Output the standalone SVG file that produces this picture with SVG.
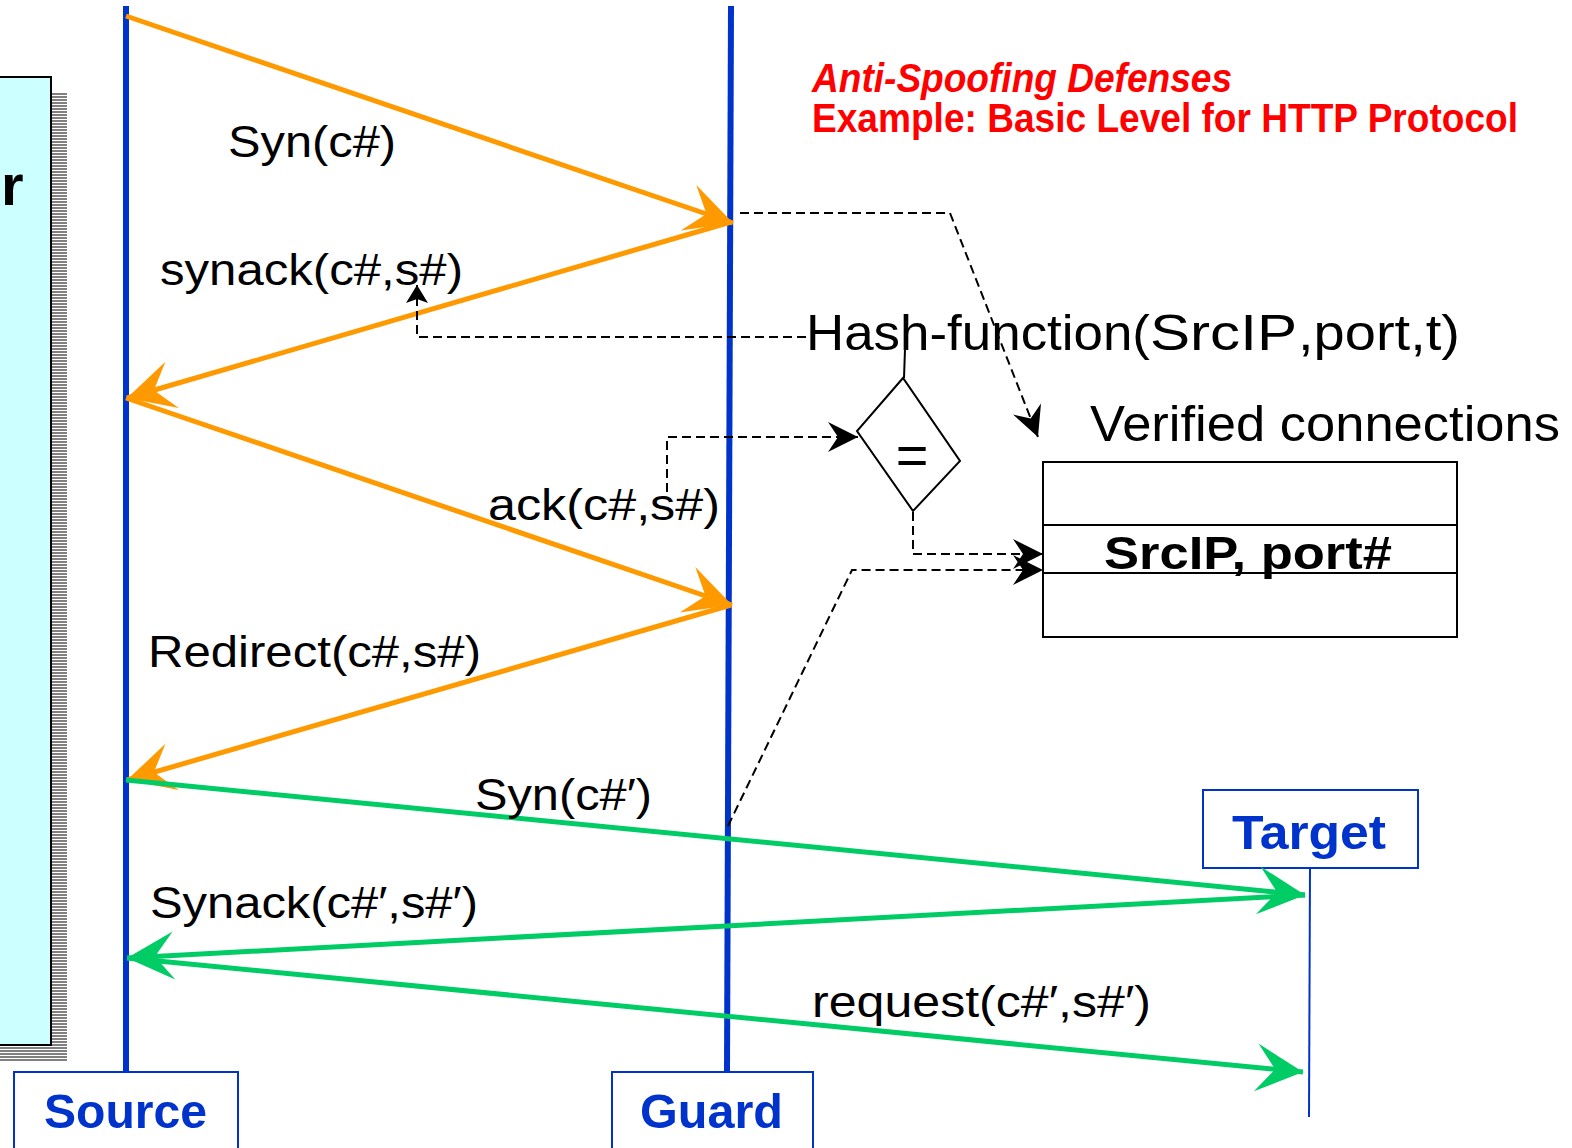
<svg xmlns="http://www.w3.org/2000/svg" width="1572" height="1148" viewBox="0 0 1572 1148">
  <style>
    .life { stroke: #0033cc; stroke-width: 6; fill: none; }
    .orange { stroke: #ff9900; stroke-width: 5; fill: none; }
    .green { stroke: #00cc66; stroke-width: 5; fill: none; }
    .dash { stroke: #000; stroke-width: 2; stroke-dasharray: 9 5; fill: none; }
    .lbl { font-family: "Liberation Sans", Arial, sans-serif; font-size: 44px; fill: #000; }
    .big { font-family: "Liberation Sans", Arial, sans-serif; font-size: 50px; fill: #000; }
    .actor { font-family: "Liberation Sans", Arial, sans-serif; font-weight: bold; font-size: 48px; fill: #0033cc; }
    .title { font-family: "Liberation Sans", Arial, sans-serif; font-weight: bold; font-size: 40px; fill: #ff0000; }
    .box { fill: #fff; stroke: #0033cc; stroke-width: 2; }
  </style>
  <defs>
    <pattern id="stripes" width="4" height="3" patternUnits="userSpaceOnUse">
      <rect width="4" height="2" fill="#808080"/>
    </pattern>
    <marker id="headOrange" markerUnits="userSpaceOnUse" markerWidth="60" markerHeight="60" viewBox="-50 -30 60 60" refX="0" refY="0" orient="auto">
      <path d="M0,0 L-47,-24 L-28,0 L-47,24 Z" fill="#ff9900"/>
    </marker>
    <marker id="headGreen" markerUnits="userSpaceOnUse" markerWidth="60" markerHeight="60" viewBox="-50 -30 60 60" refX="0" refY="0" orient="auto">
      <path d="M0,0 L-47,-24 L-28,0 L-47,24 Z" fill="#00cc66"/>
    </marker>
    <marker id="headBlack" markerUnits="userSpaceOnUse" markerWidth="40" markerHeight="40" viewBox="-35 -20 40 40" refX="0" refY="0" orient="auto">
      <path d="M0,0 L-30,-15 L-20,0 L-30,15 Z" fill="#000"/>
    </marker>
    <marker id="headSmall" markerUnits="userSpaceOnUse" markerWidth="30" markerHeight="30" viewBox="-25 -15 30 30" refX="0" refY="0" orient="auto">
      <path d="M0,0 L-18,-11 L-14,0 L-18,11 Z" fill="#000"/>
    </marker>
  </defs>

  <rect width="1572" height="1148" fill="#fff"/>

  <!-- attacker panel, clipped at the left edge -->
  <g id="attacker">
    <rect x="-10" y="93" width="77" height="968" fill="url(#stripes)"/>
    <rect x="-10" y="77" width="61" height="968" fill="#ccffff" stroke="#000" stroke-width="2"/>
    <text x="1" y="205" font-family="Liberation Sans, Arial, sans-serif" font-weight="bold" font-size="58">r</text>
  </g>

  <!-- title -->
  <g id="title">
    <text class="title" x="812" y="92" font-style="italic" textLength="420" lengthAdjust="spacingAndGlyphs">Anti-Spoofing Defenses</text>
    <text class="title" x="812" y="132" textLength="706" lengthAdjust="spacingAndGlyphs">Example: Basic Level for HTTP Protocol</text>
  </g>

  <!-- lifelines and actor boxes -->
  <g id="source">
    <line class="life" x1="126" y1="6" x2="126" y2="1072"/>
    <rect class="box" x="14" y="1072" width="224" height="90"/>
    <text class="actor" x="44" y="1128" textLength="163" lengthAdjust="spacingAndGlyphs">Source</text>
  </g>
  <g id="guard">
    <line class="life" x1="731" y1="6" x2="727" y2="1072"/>
    <rect class="box" x="612" y="1072" width="201" height="90"/>
    <text class="actor" x="640" y="1128" textLength="143" lengthAdjust="spacingAndGlyphs">Guard</text>
  </g>
  <g id="target">
    <line x1="1310" y1="868" x2="1309" y2="1117" stroke="#0033cc" stroke-width="2"/>
    <rect class="box" x="1203" y="790" width="215" height="78"/>
    <text class="actor" x="1232" y="849" font-size="49" textLength="154" lengthAdjust="spacingAndGlyphs">Target</text>
  </g>

  <!-- hash comparison -->
  <g id="hash">
    <text class="big" x="806" y="350" textLength="344" lengthAdjust="spacingAndGlyphs">Hash-function(</text>
    <text class="big" x="1150" y="350" font-size="62" textLength="147" lengthAdjust="spacingAndGlyphs">SrcIP</text>
    <text class="big" x="1298" y="350" textLength="162" lengthAdjust="spacingAndGlyphs">,port,t)</text>
  </g>
  <g id="compare">
    <polygon points="903,378 857,431 913,511 960,461" fill="#fff" stroke="#000" stroke-width="2"/>
    <text x="912" y="474" text-anchor="middle" font-family="Liberation Sans, Arial, sans-serif" font-size="56">=</text>
  </g>

  <!-- verified connections table -->
  <g id="table">
    <text class="big" x="1090" y="441" textLength="470" lengthAdjust="spacingAndGlyphs">Verified connections</text>
    <rect x="1043" y="462" width="414" height="175" fill="#fff" stroke="#000" stroke-width="2"/>
    <line x1="1043" y1="525" x2="1457" y2="525" stroke="#000" stroke-width="2"/>
    <line x1="1043" y1="573" x2="1457" y2="573" stroke="#000" stroke-width="2"/>
    <text x="1104" y="569" font-family="Liberation Sans, Arial, sans-serif" font-weight="bold" font-size="46" textLength="288" lengthAdjust="spacingAndGlyphs">SrcIP, port#</text>
  </g>

  <!-- messages and data flow -->
  <g id="connectors">
    <line class="orange" x1="126" y1="16" x2="733" y2="223" marker-end="url(#headOrange)"/>
    <line class="orange" x1="731" y1="222" x2="127" y2="398" marker-end="url(#headOrange)"/>
    <line class="orange" x1="126" y1="398" x2="732" y2="605" marker-end="url(#headOrange)"/>
    <line class="orange" x1="731" y1="605" x2="127" y2="780" marker-end="url(#headOrange)"/>
    <line class="green" x1="126" y1="780" x2="1305" y2="895" marker-end="url(#headGreen)"/>
    <line class="green" x1="1305" y1="895" x2="127" y2="958" marker-end="url(#headGreen)"/>
    <line class="green" x1="127" y1="958" x2="1303" y2="1072" marker-end="url(#headGreen)"/>

    <polyline class="dash" points="740,213 950,213 1038,437" marker-end="url(#headBlack)"/>
    <polyline class="dash" points="806,337 417,337 417,285" marker-end="url(#headSmall)"/>
    <line x1="905" y1="349" x2="904" y2="378" stroke="#000" stroke-width="2"/>
    <polyline class="dash" points="667,492 667,437 858,437" marker-end="url(#headBlack)"/>
    <polyline class="dash" points="913,512 913,554 1043,554" marker-end="url(#headBlack)"/>
    <polyline class="dash" points="728,826 852,570 1043,570" marker-end="url(#headBlack)"/>
  </g>

  <!-- message labels -->
  <g id="labels">
    <text class="lbl" x="228" y="157" textLength="168" lengthAdjust="spacingAndGlyphs">Syn(c#)</text>
    <text class="lbl" x="160" y="285" textLength="303" lengthAdjust="spacingAndGlyphs">synack(c#,s#)</text>
    <text class="lbl" x="488" y="520" textLength="232" lengthAdjust="spacingAndGlyphs">ack(c#,s#)</text>
    <text class="lbl" x="148" y="667" textLength="333" lengthAdjust="spacingAndGlyphs">Redirect(c#,s#)</text>
    <text class="lbl" x="475" y="810" textLength="177" lengthAdjust="spacingAndGlyphs">Syn(c#′)</text>
    <text class="lbl" x="150" y="918" textLength="328" lengthAdjust="spacingAndGlyphs">Synack(c#′,s#′)</text>
    <text class="lbl" x="812" y="1017" textLength="339" lengthAdjust="spacingAndGlyphs">request(c#′,s#′)</text>
  </g>
</svg>
